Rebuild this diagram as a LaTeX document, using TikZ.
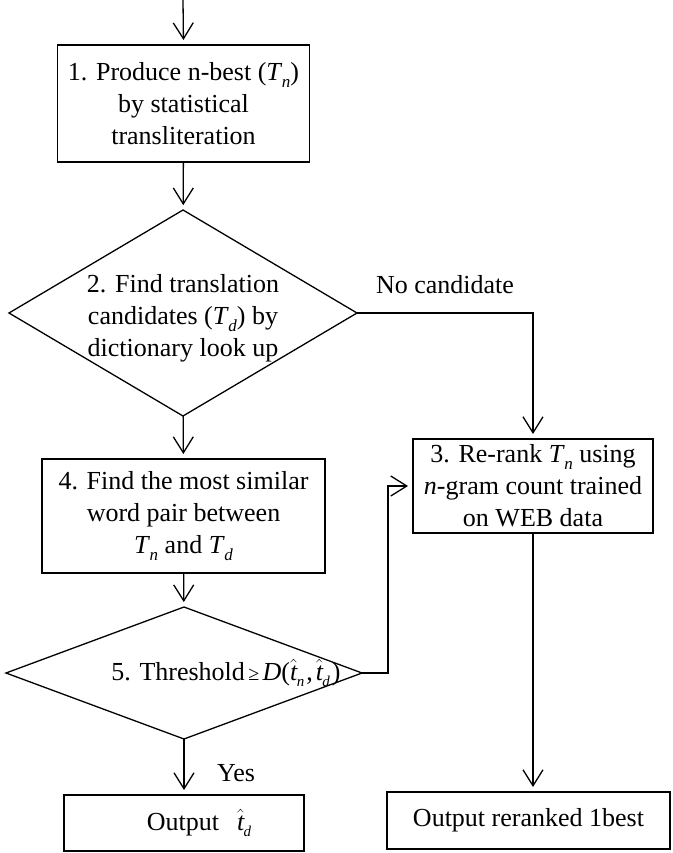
\documentclass[tikz,border=0pt]{standalone}
\usepackage{fontspec}
\setmainfont{Liberation Serif}
\usetikzlibrary{shapes.geometric,arrows.meta}
\newcommand\Sub[2]{\textit{#1}\kern-0.5pt\raisebox{-7pt}{\fontsize{17}{17}\selectfont\itshape #2}}
\newcommand\HatSub[2]{$\hat{\mbox{\itshape #1}}$\kern-0.5pt\raisebox{-6pt}{\fontsize{15}{15}\selectfont\itshape #2}\kern2pt}
\begin{document}
\begin{tikzpicture}[x=1pt,y=-1pt,
  every node/.style={font=\fontsize{26}{32}\selectfont},
  box/.style={draw, rectangle, line width=1.3pt, inner sep=0pt, outer sep=0pt, align=center},
  decision/.style={draw, diamond, line width=1.3pt, inner sep=0pt, outer sep=0pt},
  txt/.style={align=center, inner sep=0pt},
  arr/.style={line width=1.3pt, -{Straight Barb[length=16pt,width=20pt]}, shorten >=5pt}]
\useasboundingbox (0,0) rectangle (672,853);

\coordinate (start) at (183,0);
\node[box, minimum width=252pt, minimum height=117pt] (b1) at (183.5,103.5)
  {1. Produce n-best (\Sub{T}{n})\\ by statistical\\ transliteration};
\node[decision, minimum width=348pt, minimum height=206pt] (d2) at (183,313) {};
\node[txt] (t2) at (183,318) {2. Find translation\\ candidates (\Sub{T}{d}) by\\ dictionary look up};
\node[box, minimum width=283pt, minimum height=114pt] (b4) at (183.5,516)
  {4. Find the most similar\\ word pair between\\ \Sub{T}{n} and \Sub{T}{d}};
\node[decision, minimum width=356pt, minimum height=132pt] (d5) at (184,673) {};
\node[txt] (t5) at (226,673) {5. Threshold{\fontsize{20}{20}\selectfont\,≥\,}\textit{D}(\HatSub{t}{n},\kern3pt\HatSub{t}{d})};
\node[box, minimum width=240pt, minimum height=56pt] (o1) at (184,823) {};
\node[txt] (t1) at (200,823) {Output\hspace{18pt}\HatSub{t}{d}};
\node[box, minimum width=240pt, minimum height=94pt] (b3) at (533,486)
  {3. Re-rank \Sub{T}{n} using\\ \textit{n}-gram count trained\\ on WEB data};
\node[box, minimum width=283pt, minimum height=57pt] (o2) at (528.5,820.5) {Output reranked 1best};
\coordinate (fb) at (388,673);

\node[txt] (lno) at (445,285) {No candidate};
\node[txt] (lyes) at (236,773) {Yes};

\draw[arr] (start) -- (b1.north);
\draw[arr] (b1) -- (d2);
\draw[arr] (d2.east) -| (b3.north);
\draw[arr] (d2) -- (b4);
\draw[arr] (b4) -- (d5);
\draw[arr] (d5.east) -- (fb) |- (b3.west);
\draw[arr] (d5) -- (d5 |- o1.north);
\draw[arr] (b3.south) -- (b3.south |- o2.north);
\end{tikzpicture}
\end{document}
